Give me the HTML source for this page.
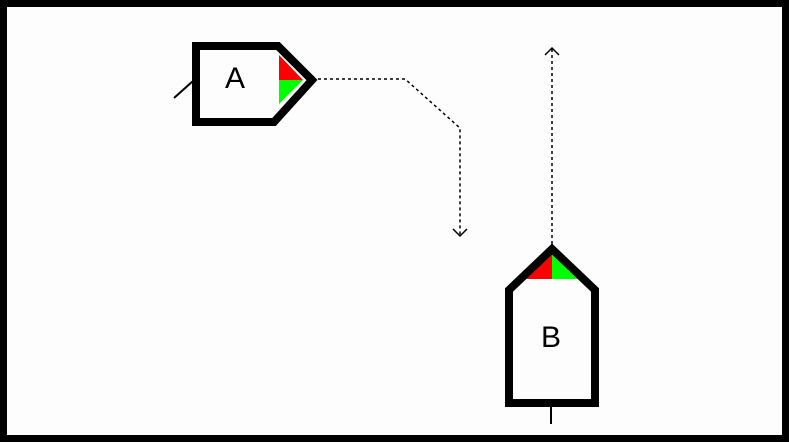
<!DOCTYPE html>
<html><head><style>body{margin:0;background:#fff}svg{display:block}</style></head><body>
<svg width="789" height="443" viewBox="0 0 789 443" xmlns="http://www.w3.org/2000/svg">
<rect x="0" y="0" width="789" height="443" fill="#fdfdfd"/>
<rect x="3.5" y="3.5" width="782" height="435" fill="none" stroke="#000" stroke-width="7"/>
<!-- Boat A -->
<line x1="174" y1="98" x2="193" y2="81" stroke="#000" stroke-width="2"/>
<polygon points="279,55 279,80 303,80" fill="#f00"/>
<polygon points="279,80 303,80 279,104" fill="#0f0"/>
<polygon points="196,46 278,46 312,80 274,122 196,122" fill="none" stroke="#000" stroke-width="8" stroke-linejoin="miter"/>
<text x="235" y="88" font-family="Liberation Sans, sans-serif" font-size="30" text-anchor="middle" fill="#000">A</text>
<!-- dashed path -->
<polyline points="318,79 405,79 460,128 460,236" fill="none" stroke="#000" stroke-width="1.5" stroke-dasharray="3,3"/>
<polyline points="453,229 460,236 467,229" fill="none" stroke="#000" stroke-width="1.5"/>
<!-- Boat B -->
<line x1="552" y1="244" x2="552" y2="48" stroke="#000" stroke-width="1.5" stroke-dasharray="3,3"/>
<polyline points="545,55 552,48 559,55" fill="none" stroke="#000" stroke-width="1.5"/>
<polygon points="552,252 524,279 552,279" fill="#f00"/>
<polygon points="552,252 580,279 552,279" fill="#0f0"/>
<polygon points="509,290 552,249 595,290 595,403 509,403" fill="none" stroke="#000" stroke-width="8"/>
<line x1="551" y1="407" x2="551" y2="424" stroke="#000" stroke-width="2"/>
<text x="551" y="347" font-family="Liberation Sans, sans-serif" font-size="30" text-anchor="middle" fill="#000">B</text>
</svg>
</body></html>
